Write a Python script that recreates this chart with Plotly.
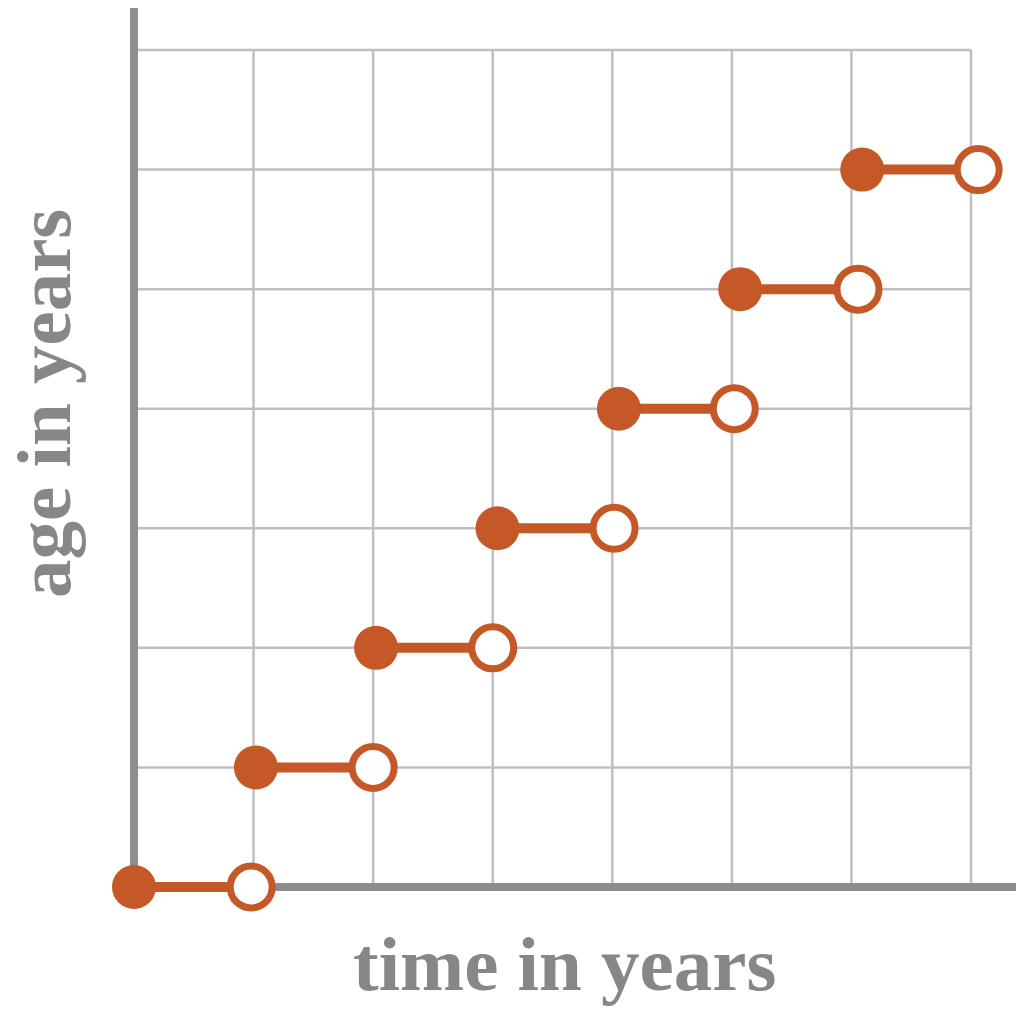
import plotly.graph_objects as go

# Step function: age vs time (closed dot = start of year, open dot = end)
age = [0, 1, 2, 3, 4, 5, 6]
start_time = [0, 1.02, 2.025, 3.04, 4.055, 5.07, 6.09]
end_time = [0.98, 2.0, 3.0, 4.015, 5.02, 6.055, 7.06]
grid_ticks = [1, 2, 3, 4, 5, 6, 7]

ORANGE = "#C45827"
AXIS_GRAY = "#8d8d91"
GRID_GRAY = "#bfbfc3"
TEXT_GRAY = "#87878b"

unit = 837 / 7
pad = 10 / unit          # room so the thick axis lines are not clipped
x_max = 888 / unit
y_max = 879 / unit

fig = go.Figure()

# Grid only spans the 0..7 square, so draw it as line traces
gx, gy = [], []
for t in grid_ticks:
    gx += [t, t, None]
    gy += [0, grid_ticks[-1], None]
    gx += [0, grid_ticks[-1], None]
    gy += [t, t, None]
fig.add_trace(go.Scatter(x=gx, y=gy, mode="lines",
                         line=dict(color=GRID_GRAY, width=2.5),
                         hoverinfo="skip", showlegend=False))

# Axis lines
fig.add_trace(go.Scatter(x=[x_max, 0, 0], y=[0, 0, y_max], mode="lines",
                         line=dict(color=AXIS_GRAY, width=8),
                         hoverinfo="skip", showlegend=False))

# Horizontal segments
sx, sy = [], []
for a, t0, t1 in zip(age, start_time, end_time):
    sx += [t0, t1, None]
    sy += [a, a, None]
fig.add_trace(go.Scatter(x=sx, y=sy, mode="lines",
                         line=dict(color=ORANGE, width=10),
                         showlegend=False, cliponaxis=False))

fig.add_trace(go.Scatter(x=start_time, y=age, mode="markers",
                         marker=dict(size=44, color=ORANGE, line=dict(width=0)),
                         showlegend=False, cliponaxis=False))
fig.add_trace(go.Scatter(x=end_time, y=age, mode="markers",
                         marker=dict(size=42, color="white",
                                     line=dict(color=ORANGE, width=7)),
                         showlegend=False, cliponaxis=False))

title_font = dict(family="Liberation Serif", size=77, color=TEXT_GRAY, weight="bold")

fig.add_annotation(text="time in years", x=3.6, xref="x", y=0, yref="y",
                   yshift=-77, showarrow=False, font=title_font)
fig.add_annotation(text="age in years", x=0, xref="x", y=4.04, yref="y",
                   xshift=-90, textangle=-90, showarrow=False, font=title_font)

fig.update_xaxes(range=[-pad, x_max], visible=False)
fig.update_yaxes(range=[-pad, y_max], visible=False)

fig.update_layout(
    width=1024, height=1021,
    margin=dict(l=116, r=10, t=0, b=132),
    plot_bgcolor="white", paper_bgcolor="white",
)

fig.write_html("out.html")
